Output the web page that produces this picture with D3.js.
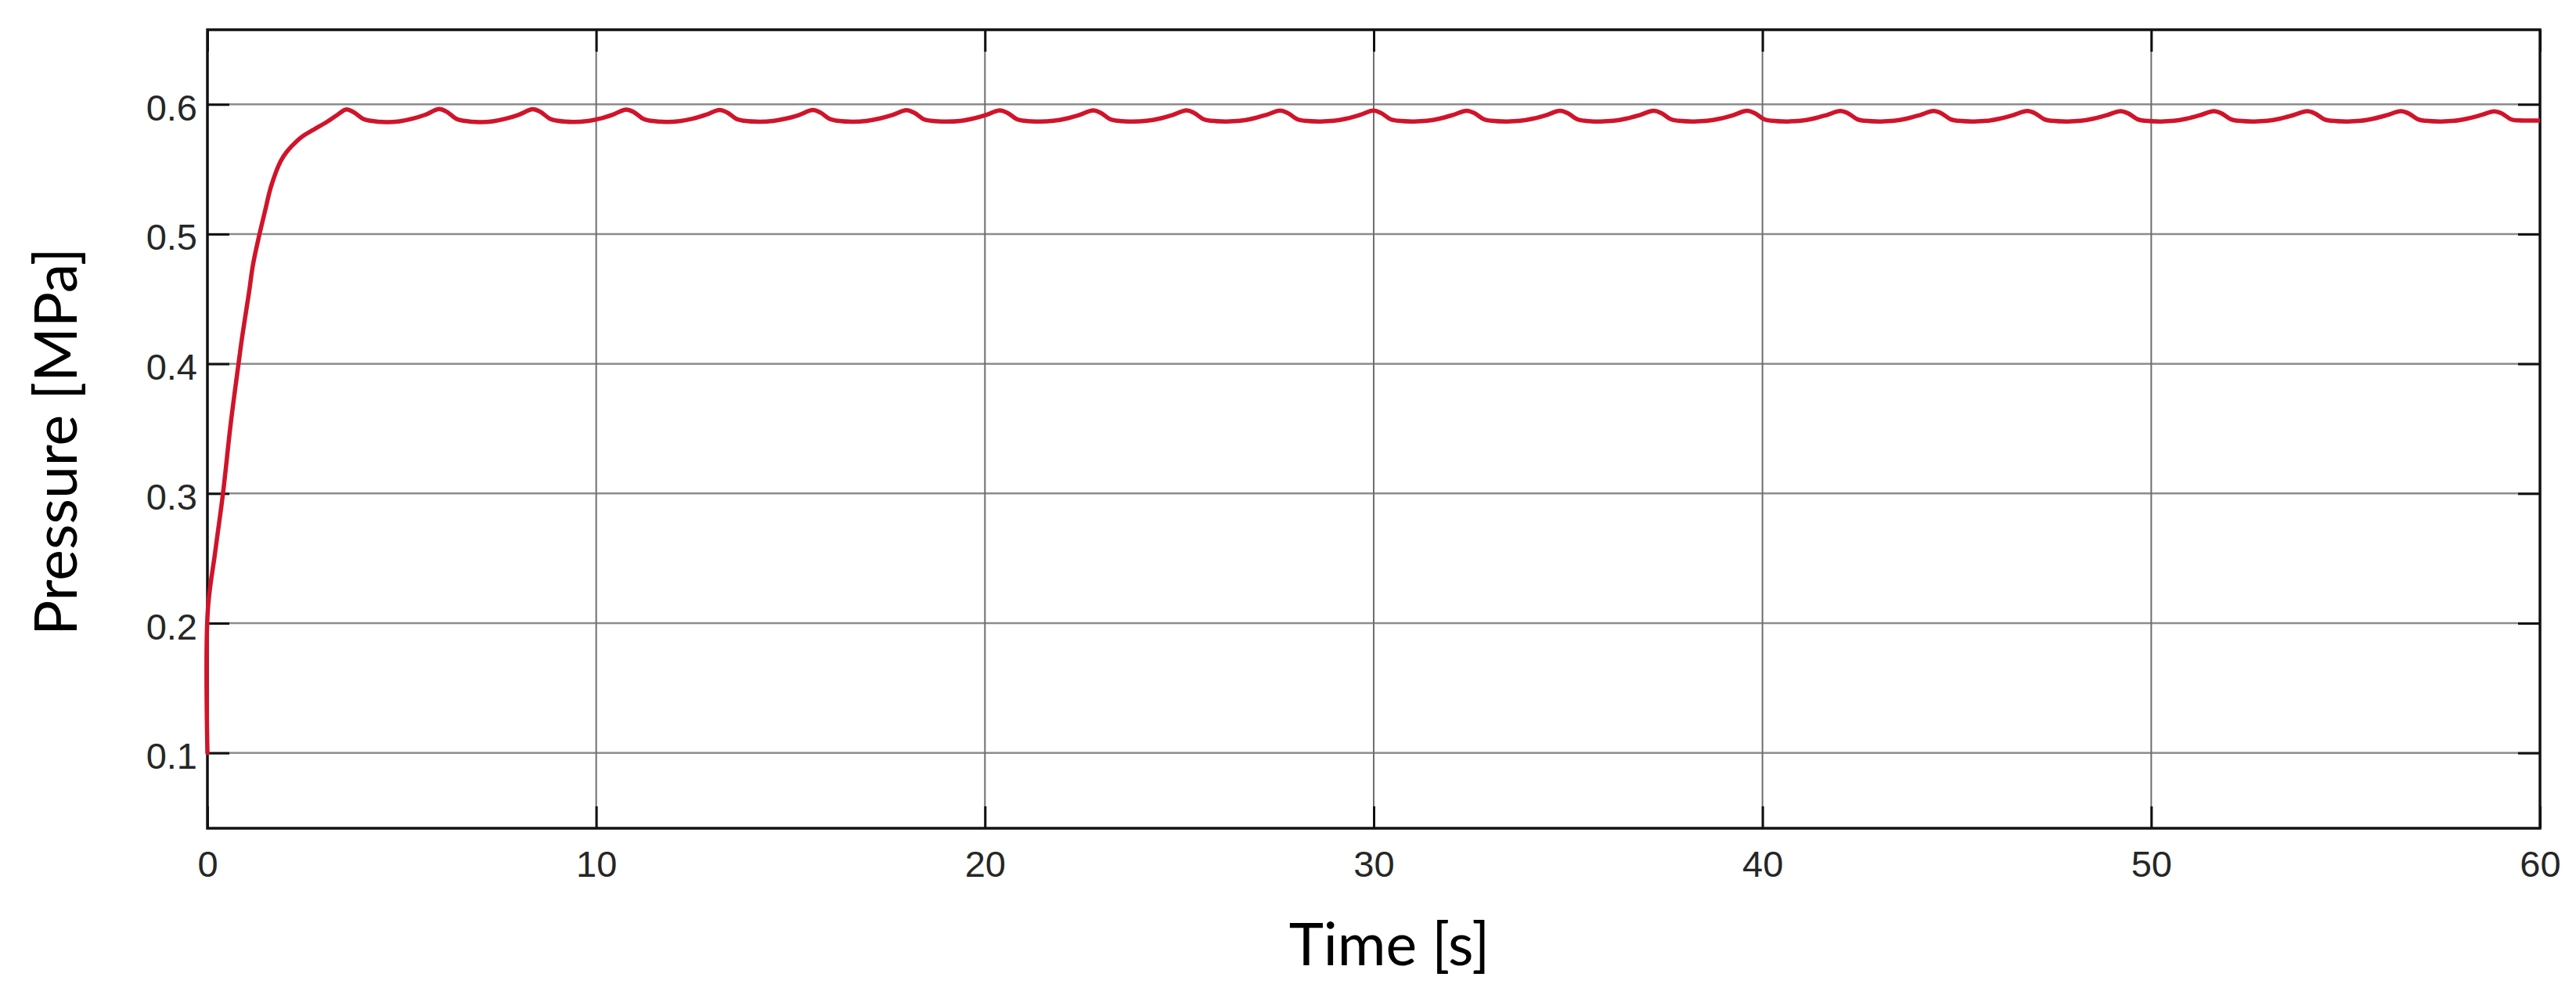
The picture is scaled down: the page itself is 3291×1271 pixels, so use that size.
<!DOCTYPE html>
<html>
<head>
<meta charset="utf-8">
<script src="https://cdn.jsdelivr.net/npm/d3@7"></script>
<style>
  html, body { margin: 0; padding: 0; background: #ffffff; }
  svg { display: block; }
</style>
</head>
<body>
<svg id="chart" width="3291" height="1271"></svg>
<script>
// ---- Data ----
const xTicks = [0, 10, 20, 30, 40, 50, 60];
const yTicks = [0.1, 0.2, 0.3, 0.4, 0.5, 0.6];
const xLabel = "Time [s]";
const yLabel = "Pressure [MPa]";

// Rise phase
const riseTime = [0, 0.01, 0.2, 0.4, 0.6, 0.8, 0.9, 1.07, 1.17, 1.34, 1.48, 1.64, 1.88, 2.05, 2.31, 2.48, 2.75, 3.08, 3.32];
const risePressure = [0.100, 0.210, 0.255, 0.300, 0.354, 0.400, 0.422, 0.455, 0.476, 0.500, 0.5175, 0.5370, 0.5560, 0.5638, 0.5720, 0.5760, 0.5808, 0.5866, 0.5914];

// Oscillating phase (peaks every ~2.4 s)
const cycleTime = [
  3.56, 3.76, 4.00, 4.20, 4.60, 4.94, 5.27, 5.61,
  5.96, 6.16, 6.40, 6.60, 7.00, 7.34, 7.67, 8.01,
  8.37, 8.57, 8.81, 9.01, 9.41, 9.75, 10.08, 10.42,
  10.77, 10.97, 11.21, 11.41, 11.81, 12.15, 12.48, 12.82,
  13.17, 13.37, 13.61, 13.81, 14.21, 14.55, 14.88, 15.22,
  15.57, 15.77, 16.01, 16.21, 16.61, 16.95, 17.28, 17.62,
  17.98, 18.18, 18.42, 18.62, 19.02, 19.36, 19.69, 20.03,
  20.38, 20.58, 20.82, 21.02, 21.42, 21.76, 22.09, 22.43,
  22.78, 22.98, 23.22, 23.42, 23.82, 24.16, 24.49, 24.83,
  25.18, 25.38, 25.62, 25.82, 26.22, 26.56, 26.89, 27.23,
  27.59, 27.79, 28.03, 28.23, 28.63, 28.97, 29.30, 29.64,
  29.99, 30.19, 30.43, 30.63, 31.03, 31.37, 31.70, 32.04,
  32.39, 32.59, 32.83, 33.03, 33.43, 33.77, 34.10, 34.44,
  34.79, 34.99, 35.23, 35.43, 35.83, 36.17, 36.50, 36.84,
  37.20, 37.40, 37.64, 37.84, 38.24, 38.58, 38.91, 39.25,
  39.60, 39.80, 40.04, 40.24, 40.64, 40.98, 41.31, 41.65,
  42.00, 42.20, 42.44, 42.64, 43.04, 43.38, 43.71, 44.05,
  44.40, 44.60, 44.84, 45.04, 45.44, 45.78, 46.11, 46.45,
  46.81, 47.01, 47.25, 47.45, 47.85, 48.19, 48.52, 48.86,
  49.21, 49.41, 49.65, 49.85, 50.25, 50.59, 50.92, 51.26,
  51.61, 51.81, 52.05, 52.25, 52.65, 52.99, 53.32, 53.66,
  54.01, 54.21, 54.45, 54.65, 55.05, 55.39, 55.72, 56.06,
  56.42, 56.62, 56.86, 57.06, 57.46, 57.80, 58.13, 58.47,
  58.82, 59.02, 59.26, 59.46, 60.00
];
const cyclePressure = [
  0.5960, 0.5940, 0.5889, 0.5873, 0.5863, 0.5869, 0.5889, 0.5920,
  0.5964, 0.5942, 0.5889, 0.5873, 0.5863, 0.5869, 0.5889, 0.5920,
  0.5962, 0.5941, 0.5889, 0.5873, 0.5864, 0.5870, 0.5889, 0.5920,
  0.5960, 0.5940, 0.5888, 0.5873, 0.5865, 0.5871, 0.5889, 0.5919,
  0.5957, 0.5937, 0.5887, 0.5873, 0.5866, 0.5872, 0.5890, 0.5918,
  0.5956, 0.5936, 0.5887, 0.5873, 0.5866, 0.5872, 0.5890, 0.5918,
  0.5955, 0.5935, 0.5886, 0.5873, 0.5867, 0.5872, 0.5890, 0.5918,
  0.5954, 0.5934, 0.5886, 0.5873, 0.5867, 0.5873, 0.5890, 0.5918,
  0.5953, 0.5934, 0.5886, 0.5873, 0.5867, 0.5873, 0.5890, 0.5918,
  0.5953, 0.5934, 0.5886, 0.5873, 0.5868, 0.5873, 0.5890, 0.5918,
  0.5952, 0.5933, 0.5885, 0.5873, 0.5868, 0.5873, 0.5890, 0.5918,
  0.5952, 0.5933, 0.5885, 0.5873, 0.5868, 0.5873, 0.5890, 0.5918,
  0.5951, 0.5932, 0.5885, 0.5873, 0.5868, 0.5873, 0.5890, 0.5917,
  0.5950, 0.5932, 0.5885, 0.5873, 0.5868, 0.5873, 0.5890, 0.5917,
  0.5950, 0.5932, 0.5885, 0.5873, 0.5868, 0.5873, 0.5890, 0.5917,
  0.5950, 0.5932, 0.5885, 0.5873, 0.5868, 0.5873, 0.5890, 0.5917,
  0.5949, 0.5931, 0.5885, 0.5873, 0.5868, 0.5873, 0.5890, 0.5917,
  0.5949, 0.5931, 0.5885, 0.5873, 0.5868, 0.5873, 0.5890, 0.5917,
  0.5949, 0.5931, 0.5885, 0.5873, 0.5868, 0.5873, 0.5890, 0.5917,
  0.5948, 0.5930, 0.5885, 0.5873, 0.5868, 0.5873, 0.5890, 0.5917,
  0.5948, 0.5930, 0.5885, 0.5873, 0.5868, 0.5873, 0.5890, 0.5917,
  0.5947, 0.5930, 0.5885, 0.5873, 0.5868, 0.5873, 0.5890, 0.5916,
  0.5947, 0.5930, 0.5885, 0.5873, 0.5868, 0.5873, 0.5890, 0.5916,
  0.5946, 0.5929, 0.5884, 0.5876, 0.5875
];

// ---- Layout ----
const W = 3291, H = 1271;
const plot = { left: 265, right: 3245, top: 38, bottom: 1058 };

const x = d3.scaleLinear().domain([0, 60]).range([plot.left, plot.right]);
const y = d3.scaleLinear().domain([0.0419, 0.6575]).range([plot.bottom, plot.top]);

const svg = d3.select("#chart");
svg.append("rect").attr("width", W).attr("height", H).attr("fill", "#ffffff");

svg.append("defs").append("clipPath").attr("id", "clip")
  .append("rect")
  .attr("x", plot.left - 5).attr("y", plot.top)
  .attr("width", plot.right - plot.left + 5).attr("height", plot.bottom - plot.top);

// Grid lines
const grid = svg.append("g").attr("class", "grid");
grid.selectAll("line.gy").data(yTicks).join("line")
  .attr("class", "gy")
  .attr("x1", plot.left).attr("x2", plot.right)
  .attr("y1", d => y(d)).attr("y2", d => y(d))
  .attr("stroke", "#8c8c8c").attr("stroke-width", 2.5);
grid.selectAll("line.gx").data(xTicks.filter(d => d > 0 && d < 60)).join("line")
  .attr("class", "gx")
  .attr("x1", d => x(d)).attr("x2", d => x(d))
  .attr("y1", plot.top).attr("y2", plot.bottom)
  .attr("stroke", "#6e6e6e").attr("stroke-width", 2);

// Axes via d3 axis generators (ticks inward)
const tickLen = 28;
const axisFont = "'Liberation Sans', Arial, sans-serif";

const gLeft = svg.append("g").attr("transform", `translate(${plot.left},0)`)
  .call(d3.axisLeft(y).tickValues(yTicks).tickSizeInner(-tickLen).tickSizeOuter(0).tickFormat(d3.format(".1f")));
const gRight = svg.append("g").attr("transform", `translate(${plot.right},0)`)
  .call(d3.axisRight(y).tickValues(yTicks).tickSizeInner(-tickLen).tickSizeOuter(0).tickFormat(""));
const gBottom = svg.append("g").attr("transform", `translate(0,${plot.bottom})`)
  .call(d3.axisBottom(x).tickValues(xTicks).tickSizeInner(-tickLen).tickSizeOuter(0).tickFormat(d3.format("d")));
const gTop = svg.append("g").attr("transform", `translate(0,${plot.top})`)
  .call(d3.axisTop(x).tickValues(xTicks).tickSizeInner(-tickLen).tickSizeOuter(0).tickFormat(""));

[gLeft, gRight, gBottom, gTop].forEach(g => {
  g.select(".domain").remove();
  g.selectAll(".tick line").attr("stroke", "#111111").attr("stroke-width", 3);
  g.selectAll(".tick text")
    .attr("font-family", axisFont)
    .attr("font-size", 47)
    .attr("fill", "#262626");
});
gLeft.selectAll(".tick text").attr("x", -13).attr("dy", 0).attr("y", 20)
  .attr("text-anchor", "end");
gBottom.selectAll(".tick text").attr("dy", 0).attr("y", 62);

// Frame
svg.append("rect")
  .attr("x", plot.left).attr("y", plot.top)
  .attr("width", plot.right - plot.left).attr("height", plot.bottom - plot.top)
  .attr("fill", "none").attr("stroke", "#111111").attr("stroke-width", 3.5);

// Data line (drawn above the axes, as in the reference)
const data = riseTime.map((t, i) => [t, risePressure[i]])
  .concat(cycleTime.map((t, i) => [t, cyclePressure[i]]));
const line = d3.line().x(d => x(d[0])).y(d => y(d[1])).curve(d3.curveCatmullRom.alpha(0.5));
svg.append("path")
  .datum(data)
  .attr("clip-path", "url(#clip)")
  .attr("d", line)
  .attr("fill", "none")
  .attr("stroke", "#d0142a")
  .attr("stroke-width", 5.5)
  .attr("stroke-linejoin", "round")
  .attr("stroke-linecap", "round");

// Axis titles
const titleFont = "Lato, 'Open Sans', sans-serif";
svg.append("text")
  .attr("x", (plot.left + plot.right) / 2 + 20)
  .attr("y", 1233)
  .attr("text-anchor", "middle")
  .attr("font-family", titleFont)
  .attr("font-size", 75)
  .attr("fill", "#000000")
  .text(xLabel);
svg.append("text")
  .attr("transform", `translate(98,564) rotate(-90)`)
  .attr("text-anchor", "middle")
  .attr("font-family", titleFont)
  .attr("font-size", 75)
  .attr("fill", "#000000")
  .text(yLabel);
</script>
</body>
</html>
